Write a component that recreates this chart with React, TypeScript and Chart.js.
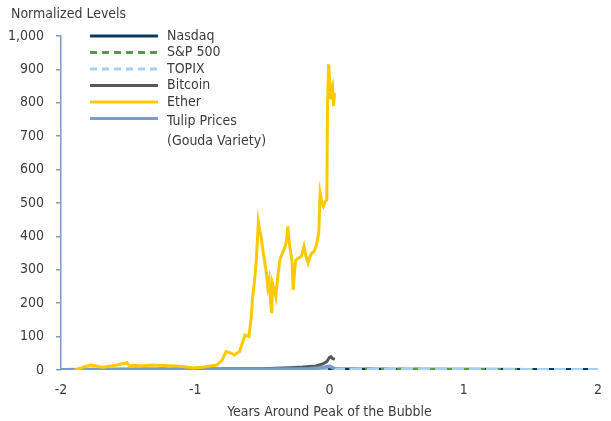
import React, { useEffect, useRef } from "react";
import { Chart, registerables } from "chart.js";

Chart.register(...registerables);

const FONT = '"Liberation Sans Narrow", "DejaVu Sans Condensed", "Arial Narrow", sans-serif';
const TEXT_COLOR = "#3c3c3c";
const AXIS_COLOR = "#7b9cc8";

const yAxisTitle = "Normalized Levels";
const xAxisTitle = "Years Around Peak of the Bubble";
const xTicks = [-2, -1, 0, 1, 2];
const yTicks = [0, 100, 200, 300, 400, 500, 600, 700, 800, 900, 1000];

// Index series (spanning the full window)
const indexYears = [-2, -1.5, -1, -0.5, 0, 0.5, 1, 1.5, 2];
const nasdaqValues = [1, 1.2, 1.5, 2.0, 2.6, 1.6, 1.3, 1.1, 1.0];
const spValues = [1, 1.1, 1.3, 1.6, 2.0, 1.2, 1.0, 0.9, 0.8];
const topixValues = [1, 1.15, 1.3, 1.5, 1.7, 1.2, 1.1, 1.0, 0.95];

// Tulip prices
const tulipYears = [-2, -1.5, -1, -0.6, -0.3, -0.15, -0.08, -0.03, 0, 0.02, 0.04];
const tulipValues = [1, 1.2, 1.5, 2, 3, 4, 6, 9, 11, 8, 3];

// Bitcoin
const bitcoinYears = [-2, -1.5, -1, -0.7, -0.5, -0.3, -0.2, -0.1, -0.05, -0.02, 0, 0.01, 0.02, 0.04];
const bitcoinValues = [1, 1.5, 2, 3, 4, 7, 9, 12, 18, 25, 38, 40, 35, 32];

// Ether
const etherYears = [
  -1.9, -1.87, -1.83, -1.78, -1.74, -1.69, -1.64, -1.59, -1.55, -1.51, -1.49, -1.45, -1.4, -1.33, -1.27,
  -1.2, -1.14, -1.08, -1.02, -0.95, -0.9, -0.84, -0.8, -0.77, -0.73, -0.71, -0.67, -0.65, -0.63, -0.6,
  -0.58, -0.575, -0.56, -0.545, -0.53, -0.52, -0.51, -0.5, -0.485, -0.47, -0.46, -0.45, -0.44, -0.43,
  -0.425, -0.41, -0.4, -0.385, -0.37, -0.35, -0.33, -0.32, -0.31, -0.3, -0.28, -0.27, -0.26, -0.25,
  -0.23, -0.21, -0.19, -0.175, -0.16, -0.145, -0.13, -0.115, -0.1, -0.08, -0.07, -0.055, -0.045, -0.03,
  -0.02, -0.015, -0.007, 0, 0.007, 0.015, 0.022, 0.03, 0.037,
];
const etherValues = [
  0, 3, 9, 15, 12, 8, 11, 14, 18, 22, 12, 14, 12, 15, 14,
  13, 12, 10, 6, 8, 11, 15, 30, 55, 50, 45, 55, 80, 105, 100,
  170, 210, 260, 330, 443, 420, 400, 370, 330, 290, 250, 270, 210, 170,
  260, 240, 220, 280, 330, 350, 370, 390, 430, 380, 330, 240, 300, 330,
  335, 340, 370, 340, 320, 340, 350, 355, 370, 410, 530, 500, 490, 505,
  510, 780, 915, 880, 810, 840, 850, 790, 830,
];

const toPoints = (xs: number[], ys: number[]) => xs.map((x, i) => ({ x, y: ys[i] }));

const legendPlugin = {
  id: "customLegend",
  afterDraw(chart: any) {
    const ctx = chart.ctx;
    const rows = [36, 52.5, 69, 85.5, 102, 118.5];
    ctx.save();
    chart.data.datasets.forEach((ds: any, i: number) => {
      const y = rows[i];
      ctx.beginPath();
      ctx.strokeStyle = ds.borderColor;
      ctx.lineWidth = 3;
      ctx.setLineDash(ds.legendDash || []);
      ctx.moveTo(90, y);
      ctx.lineTo(158, y);
      ctx.stroke();
      ctx.setLineDash([]);
      ctx.fillStyle = TEXT_COLOR;
      ctx.font = `14px ${FONT}`;
      ctx.textBaseline = "middle";
      ctx.textAlign = "left";
      const lines: string[] = ds.legendText || [ds.label];
      lines.forEach((t, li) => {
        const ty = lines.length > 1 ? y + 3 + li * 20 : y;
        ctx.fillText(t, 167, ty);
      });
    });
    ctx.font = `14px ${FONT}`;
    ctx.textBaseline = "middle";
    ctx.fillText(yAxisTitle, 11, 14);
    ctx.restore();
  },
};

export default function App() {
  const ref = useRef<HTMLCanvasElement>(null);
  useEffect(() => {
    if (!ref.current) return;
    const chart = new Chart(ref.current, {
      type: "line",
      data: {
        datasets: [
          {
            label: "Nasdaq",
            data: toPoints(indexYears, nasdaqValues),
            borderColor: "#0d3a5f",
            borderWidth: 3.5,
            order: 6,
          },
          {
            label: "S&P 500",
            data: toPoints(indexYears, spValues),
            borderColor: "#5b9b3e",
            borderWidth: 3.5,
            borderDash: [8, 8],
            legendDash: [7, 5],
            order: 5,
          },
          {
            label: "TOPIX",
            data: toPoints(indexYears, topixValues),
            borderColor: "#a8d0f0",
            borderWidth: 3.5,
            borderDash: [12, 5],
            legendDash: [7, 5],
            order: 4,
          },
          {
            label: "Bitcoin",
            data: toPoints(bitcoinYears, bitcoinValues),
            borderColor: "#555a60",
            borderWidth: 3,
            order: 3,
          },
          {
            label: "Ether",
            data: toPoints(etherYears, etherValues),
            borderColor: "#ffc900",
            borderWidth: 3,
            order: 1,
          },
          {
            label: "Tulip Prices (Gouda Variety)",
            legendText: ["Tulip Prices", "(Gouda Variety)"],
            data: toPoints(tulipYears, tulipValues),
            borderColor: "#7b9cc8",
            borderWidth: 3.5,
            order: 2,
          } as any,
        ],
      },
      options: {
        animation: false,
        responsive: false,
        layout: { padding: { top: 36, right: 13, left: 0, bottom: 0 } },
        elements: { point: { radius: 0 }, line: { tension: 0 } },
        plugins: { legend: { display: false }, tooltip: { enabled: false } },
        scales: {
          x: {
            type: "linear",
            min: -2,
            max: 2,
            afterBuildTicks: (s: any) => {
              s.ticks = xTicks.map((v) => ({ value: v }));
            },
            afterFit: (s: any) => {
              s.height = 51;
            },
            grid: { display: false },
            border: { display: false },
            ticks: {
              color: TEXT_COLOR,
              font: { family: FONT, size: 14 },
              padding: 4,
              callback: (v: any) => String(v),
            },
            title: {
              display: true,
              text: xAxisTitle,
              color: TEXT_COLOR,
              font: { family: FONT, size: 14 },
              padding: { top: 0, bottom: 0 },
            },
          },
          y: {
            min: 0,
            max: 1000,
            afterBuildTicks: (s: any) => {
              s.ticks = yTicks.map((v) => ({ value: v }));
            },
            afterFit: (s: any) => {
              s.width = 61;
            },
            grid: {
              drawOnChartArea: false,
              drawTicks: true,
              tickLength: 5,
              color: AXIS_COLOR,
              lineWidth: 1.5,
            },
            border: { display: true, color: AXIS_COLOR, width: 1.5 },
            ticks: {
              color: TEXT_COLOR,
              font: { family: FONT, size: 14 },
              padding: 12,
              callback: (v: any) => Number(v).toLocaleString("en-US"),
            },
          },
        },
      },
      plugins: [legendPlugin],
    } as any);
    return () => chart.destroy();
  }, []);
  return (
    <div style={{ position: "absolute", left: 0, top: 0, width: 611, height: 421 }}>
      <canvas ref={ref} width={611} height={421} />
    </div>
  );
}
